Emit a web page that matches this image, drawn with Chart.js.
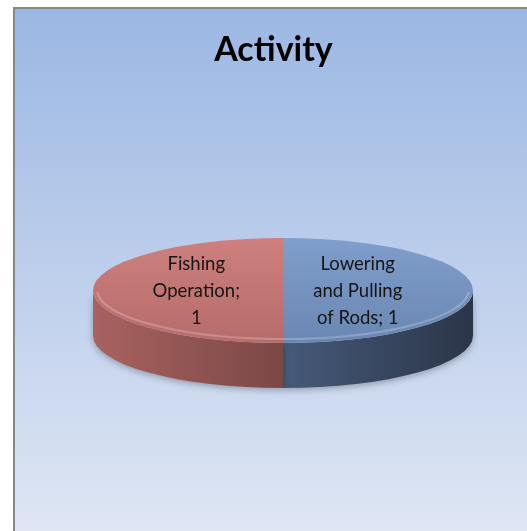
<!DOCTYPE html>
<html>
<head>
<meta charset="utf-8">
<script src="https://cdn.jsdelivr.net/npm/chart.js@4.4.1/dist/chart.umd.min.js"></script>
<style>
  html, body { margin: 0; padding: 0; background: #ffffff; }
  canvas { display: block; }
</style>
</head>
<body>
<canvas id="c" width="527" height="531"></canvas>
<script>
// ---- data ----
const categories = ["Lowering and Pulling of Rods", "Fishing Operation"];
const values = [1, 1];
const chartTitle = "Activity";

// ---- styling ----
const topColors = [
  ["#809ecb", "#6a87b3"],   // blue top face (top -> bottom)
  ["#cd807e", "#b66c6a"]    // red top face
];
const sideColors = [
  ["#465a7a", "#2b3548"],   // blue side (center -> right)
  ["#a8625f", "#7b4846"]    // red side (left -> center)
];
const ELL = { cx: 283, cy: 290.5, rx: 190, ry: 52.5, depth: 45 };

const bgPlugin = {
  id: 'bg',
  beforeDraw(chart) {
    const ctx = chart.ctx;
    ctx.save();
    ctx.fillStyle = '#ffffff';
    ctx.fillRect(0, 0, chart.width, chart.height);
    const g = ctx.createLinearGradient(0, 8, 0, 531);
    g.addColorStop(0, '#9bb7e3');
    g.addColorStop(1, '#dfe6f4');
    ctx.fillStyle = g;
    ctx.fillRect(14, 8, chart.width - 14, chart.height - 8);
    ctx.strokeStyle = '#878787';
    ctx.lineWidth = 2;
    ctx.beginPath();
    ctx.moveTo(14, chart.height);
    ctx.lineTo(14, 8);
    ctx.lineTo(chart.width + 2, 8);
    ctx.stroke();
    ctx.restore();
  }
};

function pieGeom(chart) {
  const meta = chart.getDatasetMeta(0);
  const a = meta.data[0];
  return { x: a.x, y: a.y, r: a.outerRadius, arcs: meta.data };
}

const pie3d = {
  id: 'pie3d',
  beforeDatasetsDraw(chart) {
    const ctx = chart.ctx;
    const g = pieGeom(chart);
    const E = ELL;
    // sides (front half only)
    ctx.save();
    g.arcs.forEach((arc, i) => {
      const s = arc.startAngle, e = arc.endAngle;
      for (let k = -1; k <= 1; k++) {
        const lo = Math.max(s, 2 * Math.PI * k), hi = Math.min(e, 2 * Math.PI * k + Math.PI);
        if (hi <= lo) continue;
        const x1 = E.cx + E.rx * Math.cos(lo), x2 = E.cx + E.rx * Math.cos(hi);
        const grad = ctx.createLinearGradient(Math.min(x1, x2), 0, Math.max(x1, x2), 0);
        const sc = sideColors[i];
        grad.addColorStop(0, sc[0]);
        grad.addColorStop(1, sc[1]);
        ctx.beginPath();
        ctx.ellipse(E.cx, E.cy, E.rx, E.ry, 0, lo, hi);
        ctx.lineTo(E.cx + E.rx * Math.cos(hi), E.cy + E.depth + E.ry * Math.sin(hi));
        ctx.ellipse(E.cx, E.cy + E.depth, E.rx, E.ry, 0, hi, lo, true);
        ctx.closePath();
        ctx.shadowColor = 'rgba(0,0,0,0.3)';
        ctx.shadowBlur = 7;
        ctx.shadowOffsetY = 2;
        ctx.fillStyle = grad;
        ctx.fill();
      }
    });
    ctx.restore();
    // transform so the library's round pie becomes the top ellipse
    ctx.save();
    ctx.translate(E.cx, E.cy);
    ctx.scale(E.rx / g.r, E.ry / g.r);
    ctx.translate(-g.x, -g.y);
  },
  afterDatasetsDraw(chart) {
    const ctx = chart.ctx;
    ctx.restore();
    const E = ELL;
    const g = pieGeom(chart);
    // bevel highlight along the front rim
    ctx.save();
    ctx.beginPath();
    ctx.ellipse(E.cx, E.cy - 1, E.rx - 4, E.ry - 3, 0, 0.05, Math.PI - 0.05);
    ctx.strokeStyle = 'rgba(255,255,255,0.22)';
    ctx.lineWidth = 2;
    ctx.stroke();
    ctx.restore();
    // data labels
    ctx.save();
    ctx.font = '18.5px Lato, "Open Sans", sans-serif';
    ctx.fillStyle = '#141414';
    ctx.textAlign = 'center';
    ctx.textBaseline = 'middle';
    g.arcs.forEach((arc, i) => {
      const mid = (arc.startAngle + arc.endAngle) / 2;
      const lx = E.cx + E.rx * 0.425 * Math.cos(mid) - 6;
      const ly = E.cy + E.ry * 0.42 * Math.sin(mid) + 1;
      const text = categories[i] + '; ' + values[i];
      const lines = wrap(ctx, text, 94);
      const lh = 27;
      lines.forEach((ln, j) => {
        ctx.fillText(ln, lx, ly + (j - (lines.length - 1) / 2) * lh);
      });
    });
    ctx.restore();
  }
};

function wrap(ctx, text, maxW) {
  const words = text.split(' ');
  const lines = [];
  let cur = '';
  words.forEach(w => {
    const t = cur ? cur + ' ' + w : w;
    if (ctx.measureText(t).width > maxW && cur) { lines.push(cur); cur = w; }
    else cur = t;
  });
  if (cur) lines.push(cur);
  return lines;
}

new Chart(document.getElementById('c'), {
  type: 'pie',
  data: {
    labels: categories,
    datasets: [{
      data: values,
      borderWidth: 0,
      backgroundColor: (c) => {
        const chart = c.chart;
        const area = chart.chartArea;
        const i = c.dataIndex;
        if (!area || i === undefined) return topColors[0][0];
        const cy = (area.top + area.bottom) / 2;
        const r = Math.min(area.right - area.left, area.bottom - area.top) / 2;
        const gr = chart.ctx.createLinearGradient(0, cy - r, 0, cy + r);
        gr.addColorStop(0, topColors[i][0]);
        gr.addColorStop(1, topColors[i][1]);
        return gr;
      }
    }]
  },
  options: {
    responsive: false,
    devicePixelRatio: 1,
    animation: false,
    events: [],
    layout: { padding: { left: 20, right: 0, top: 0, bottom: 0 } },
    plugins: {
      legend: { display: false },
      tooltip: { enabled: false },
      title: {
        display: true,
        text: chartTitle,
        color: '#000000',
        font: { family: 'Lato, "Open Sans", sans-serif', size: 34, weight: 'bold' },
        padding: { top: 30, bottom: 10 }
      }
    }
  },
  plugins: [bgPlugin, pie3d]
});
</script>
</body>
</html>
